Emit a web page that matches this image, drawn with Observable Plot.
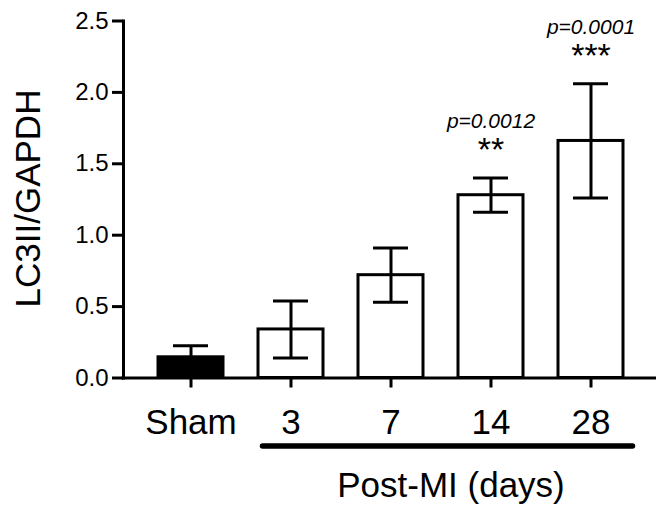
<!DOCTYPE html>
<html><head><meta charset="utf-8">
<script src="https://cdn.jsdelivr.net/npm/d3@7"></script>
<script src="https://cdn.jsdelivr.net/npm/@observablehq/plot@0.6"></script>
<style>body{margin:0;background:#fff}</style>
</head><body><div id="chart"></div>
<script>
const groups = ["Sham", "3", "7", "14", "28"];
const means = [0.145, 0.34, 0.72, 1.28, 1.66];
const errors = [0.08, 0.20, 0.19, 0.12, 0.40];
const fills = ["black", "white", "white", "white", "white"];
const pLabels = ["", "", "", "p=0.0012", "p=0.0001"];
const stars = ["", "", "", "**", "***"];
const yTicks = [0, 0.5, 1, 1.5, 2, 2.5];
const postGroups = ["3", "28"];
const groupLabel = "Post-MI (days)";
const yLabel = "LC3II/GAPDH";

const data = groups.map((g, i) => ({
  g, mean: means[i], err: errors[i], fill: fills[i], p: pLabels[i], s: stars[i],
  lo: means[i] - errors[i], hi: means[i] + errors[i]
}));
const sig = data.filter(d => d.p);

const font = "'Liberation Sans', Arial, Helvetica, sans-serif";
const plot = Plot.plot({
  width: 656, height: 505,
  marginLeft: 123, marginRight: 0, marginTop: 20.5, marginBottom: 127.5,
  style: {fontFamily: font, background: "white", color: "black"},
  x: {domain: groups, paddingInner: 0.35, paddingOuter: 0.32, align: 0.52},
  y: {domain: [0, 2.5]},
  color: {type: "identity"},
  marks: [
    Plot.barY(data, {x: "g", y: "mean", fill: "fill", stroke: "black", strokeWidth: 3}),
    Plot.ruleX(data, {x: "g", y1: "lo", y2: "hi", stroke: "black", strokeWidth: 3}),
    Plot.tickY(data, {x: "g", y: "hi", stroke: "black", strokeWidth: 3, insetLeft: 15, insetRight: 15}),
    Plot.tickY(data, {x: "g", y: "lo", stroke: "black", strokeWidth: 3, insetLeft: 15, insetRight: 15}),
    Plot.frame({anchor: "left", stroke: "black", strokeWidth: 3}),
    Plot.ruleY([0], {stroke: "black", strokeWidth: 3, insetLeft: -1.5}),
    Plot.axisY({ticks: yTicks, tickFormat: d3.format(".1f"), tickSize: 11, tickPadding: 4, fontSize: 24, strokeWidth: 3, label: null}),
    Plot.axisX({tickSize: 10, tickPadding: 21, fontSize: 35, strokeWidth: 3, label: null}),
    Plot.ruleY([0], {x1: () => postGroups[0], x2: () => postGroups[1], dy: 68, stroke: "black", strokeWidth: 5.5, strokeLinecap: "round", insetLeft: 4.5, insetRight: -9.5}),
    Plot.text(sig, {x: "g", y: "hi", text: "s", fontSize: 34, dy: -28, fill: "black"}),
    Plot.text(sig, {x: "g", y: "hi", text: "p", fontSize: 21, fontStyle: "italic", dy: -57, fill: "black"}),
    Plot.text([yLabel], {frameAnchor: "left", textAnchor: "middle", lineAnchor: "middle", rotate: -90, dx: -94.5, dy: -1, fontSize: 35, fill: "black"}),
    Plot.text([groupLabel], {frameAnchor: "bottom", textAnchor: "middle", lineAnchor: "middle", dx: 61, dy: 108, fontSize: 35, fill: "black"})
  ]
});
document.getElementById("chart").appendChild(plot);
</script>
</body></html>
